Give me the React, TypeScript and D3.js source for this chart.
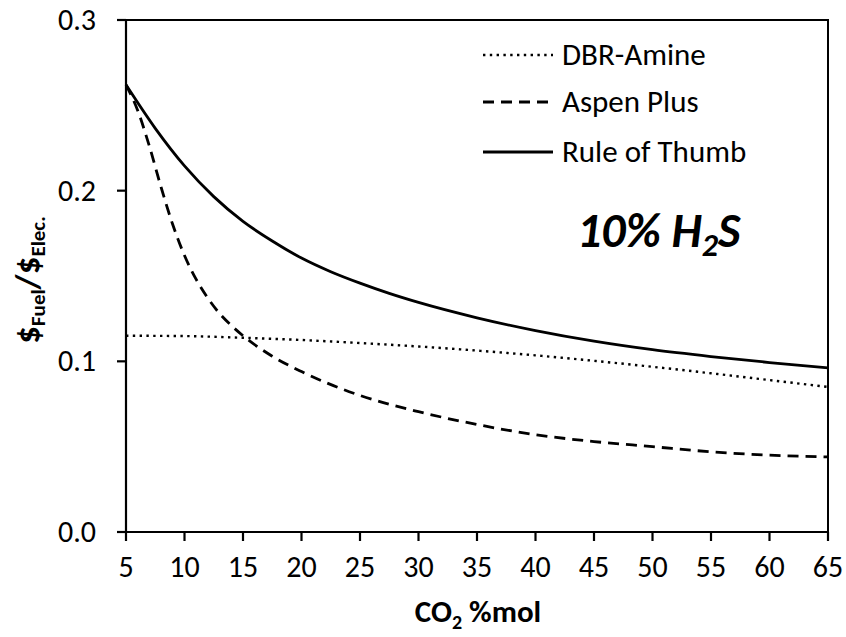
import React from "react";
import * as d3 from "d3";

const xTicks = [5, 10, 15, 20, 25, 30, 35, 40, 45, 50, 55, 60, 65];
const yTicks = [0, 0.1, 0.2, 0.3];
const yTickLabels = ["0.0", "0.1", "0.2", "0.3"];

const ruleX = [5, 7.5, 10, 12.5, 15, 17.5, 20, 22.5, 25, 27.5, 30, 35, 40, 45, 50, 55, 60, 65];
const ruleY = [0.262, 0.2365, 0.2145, 0.1965, 0.182, 0.1705, 0.1605, 0.1525, 0.1458, 0.1398, 0.1345, 0.1255, 0.118, 0.1118, 0.1068, 0.1028, 0.0993, 0.0962];

const aspenX = [5, 6, 7, 8, 9, 10, 11, 12, 13, 14, 15, 17.5, 20, 25, 30, 35, 40, 45, 50, 55, 60, 65];
const aspenY = [0.262, 0.247, 0.226, 0.202, 0.18, 0.162, 0.148, 0.137, 0.128, 0.121, 0.115, 0.103, 0.094, 0.08, 0.0705, 0.063, 0.057, 0.053, 0.05, 0.047, 0.045, 0.044];

const dbrX = [5, 10, 15, 20, 25, 30, 35, 40, 45, 50, 55, 60, 65];
const dbrY = [0.115, 0.1148, 0.1138, 0.1125, 0.1107, 0.1087, 0.1063, 0.1035, 0.1003, 0.0968, 0.093, 0.089, 0.085];

const legendNames = ["DBR-Amine", "Aspen Plus", "Rule of Thumb"];

const W = 846, H = 637;
const L = 126, R = 828, T = 20, B = 532;
const FONT = "Carlito, Lato, 'Open Sans', sans-serif";

export default function App() {
  const x = d3.scaleLinear().domain([5, 65]).range([L, R]);
  const y = d3.scaleLinear().domain([0, 0.3]).range([B, T]);
  const line = d3
    .line<[number, number]>()
    .x((d) => x(d[0]))
    .y((d) => y(d[1]))
    .curve(d3.curveMonotoneX);
  const zip = (a: number[], b: number[]) => a.map((v, i) => [v, b[i]] as [number, number]);

  const series = [
    { name: legendNames[0], d: line(zip(dbrX, dbrY)), dash: "2.4 4.4", w: 2.4 },
    { name: legendNames[1], d: line(zip(aspenX, aspenY)), dash: "11 7", w: 2.8 },
    { name: legendNames[2], d: line(zip(ruleX, ruleY)), dash: "none", w: 2.8 },
  ];
  const legendY = [55, 102, 152];

  return (
    <svg
      width={W}
      height={H}
      style={{ position: "absolute", left: 0, top: 0, background: "#fff" }}
      fontFamily={FONT}
    >
      <path d={`M${L},${T}H${R}V${B}`} fill="none" stroke="#000" strokeWidth={2} />
      <line x1={L} x2={L} y1={T} y2={B} stroke="#000" strokeWidth={2.2} />
      <line x1={L - 9} x2={R} y1={B} y2={B} stroke="#000" strokeWidth={2.2} />
      {yTicks.map((t, i) => (
        <g key={"y" + t}>
          <line x1={L - 9} x2={L} y1={y(t)} y2={y(t)} stroke="#000" strokeWidth={2.2} />
          <text x={96} y={y(t)} dy="0.33em" textAnchor="end" fontSize={30} fill="#000">
            {yTickLabels[i]}
          </text>
        </g>
      ))}
      {xTicks.map((t) => (
        <g key={"x" + t}>
          <line x1={x(t)} x2={x(t)} y1={B} y2={B + 9} stroke="#000" strokeWidth={2.2} />
          <text x={x(t)} y={567} dy="0.33em" textAnchor="middle" fontSize={30} fill="#000">
            {t}
          </text>
        </g>
      ))}
      <text x={478} y={622} textAnchor="middle" fontSize={31} fontWeight="bold" fill="#000">
        CO
        <tspan fontSize={20} dy={7}>2</tspan>
        <tspan dy={-7}> %mol</tspan>
      </text>
      <text
        transform="translate(39,280) rotate(-90)"
        textAnchor="middle"
        fontWeight="bold"
        fontSize={35}
        fill="#000"
      >
        $<tspan fontSize={21} dy={6}>Fuel</tspan>
        <tspan dy={-6}>/$</tspan>
        <tspan fontSize={21} dy={6}>Elec.</tspan>
      </text>
      {series.map((s) => (
        <path
          key={s.name}
          d={s.d || ""}
          fill="none"
          stroke="#000"
          strokeWidth={s.w}
          strokeDasharray={s.dash}
        />
      ))}
      {series.map((s, i) => (
        <g key={"lg" + s.name}>
          <line
            x1={483}
            x2={553}
            y1={legendY[i]}
            y2={legendY[i]}
            stroke="#000"
            strokeWidth={s.w}
            strokeDasharray={s.dash}
          />
          <text x={562} y={legendY[i]} dy="0.33em" fontSize={31} fill="#000">
            {s.name}
          </text>
        </g>
      ))}
      <text x={577} y={247} fontSize={48} fontWeight="bold" fontStyle="italic" fill="#000">
        10% H<tspan fontSize={32} dy={9}>2</tspan>
        <tspan dy={-9}>S</tspan>
      </text>
    </svg>
  );
}
